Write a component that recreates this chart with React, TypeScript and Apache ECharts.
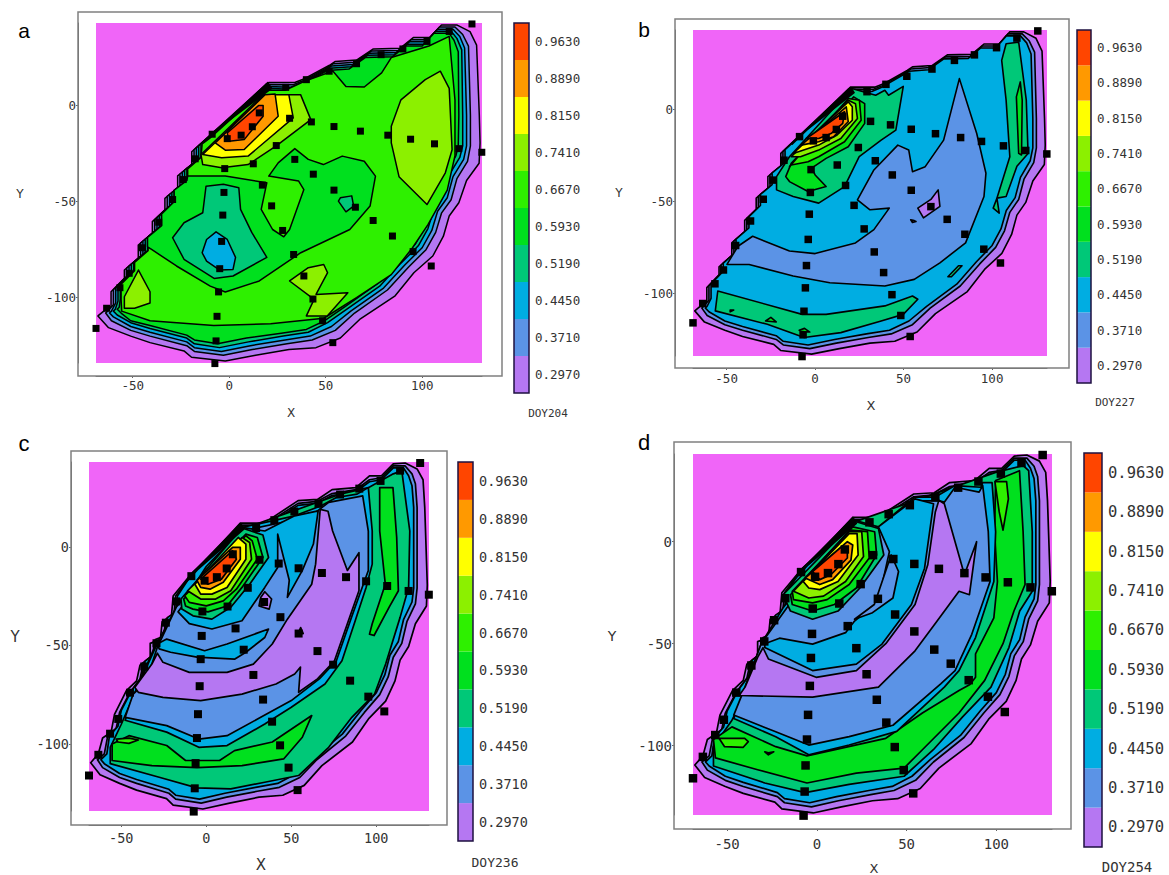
import React, { useEffect, useRef } from "react";
import * as echarts from "echarts";

type P = [number, number];
type Layer = [number, P[]];

const LEVEL_LABELS = ["0.2970", "0.3710", "0.4450", "0.5190", "0.5930", "0.6670", "0.7410", "0.8150", "0.8890", "0.9630"];
const LEVEL_COLORS = ["#B577F2", "#5B93E6", "#00ADE2", "#00C878", "#00E01E", "#2EF000", "#8CF000", "#FFFF00", "#FF9900", "#FF4500", "#000000"];
const X_TICKS = [-50, 0, 50, 100];
const Y_TICKS = [-100, -50, 0];

const SAMPLE_POINTS: P[] = [
  [125.8, 42.5], [114, 38.6], [102.5, 33.4], [90, 29.5], [78.7, 26.5], [66, 21.8], [51.8, 17.9], [40, 13.5], [29.3, 9.5],
  [15.6, -3.8], [31.3, -6.6], [42.6, -8.5], [54.3, -10.9], [68, -13.3], [82.2, -15.4], [94, -17.5], [106.4, -19.9], [119, -22.4], [130.9, -24.3],
  [12, -11], [6.2, -15.4], [-1, -17.2], [-8.8, -14.9], [24.4, -20.8], [-17.6, -27.7], [34, -28], [12.5, -30.3], [-2.3, -32.8], [43.6, -35.7],
  [-23.8, -38.5], [17.2, -41.4], [-2.7, -45.2], [54.3, -44], [-29.3, -48.9], [22, -52.2], [65.4, -52.9], [-3.3, -57], [74.6, -59.8], [-36.5, -60.7],
  [27.7, -65], [84.6, -67.9], [-3.9, -70.7], [-44.9, -74], [33.4, -77.5], [95.3, -76], [-51.8, -87.3], [-4.9, -84.9], [38.7, -88.7], [104.7, -83.5],
  [-56.6, -94.8], [-5.5, -97], [43.4, -100.7], [-63.5, -105.5], [-6.3, -109.7], [48.4, -112], [-69, -116], [-6.8, -122.5], [53.7, -123.4], [-7.4, -134.3],
];

const HULL: P[] = [[-68,-109.5],[-63.5,-105],[-61,-97],[-56,-94],[-54,-85],[-47,-73],[-41,-68],[-39,-60],[-33,-56],[-33,-49],[-27,-47],[-26,-38],[-20.5,-35],[-19.5,-25],[-10,-15],[20.5,12],[34,12],[54,23.4],[65.4,24],[74,29],[88,30],[96,36],[103,36],[110,42],[117,42.5],[124,39.5],[127.5,34],[128.5,20],[130,-19.4],[129.5,-30],[123,-39],[119,-50.6],[114,-57.5],[111,-68],[105.5,-78.3],[95.7,-87],[86,-99],[68,-111],[57.6,-121],[45,-126],[31,-127],[13.7,-130],[-2,-133],[-19.5,-131],[-23.4,-127.7],[-41,-123.4],[-51,-120],[-62.5,-115.6]];
const RING_BLUE: P[] = [[-64,-108],[-60,-105],[-58,-96],[-53,-92],[-51,-84],[-45,-74],[-39,-67],[-37,-59],[-31,-55],[-31,-48],[-25,-46],[-24,-37],[-19,-34],[-18,-25],[-9,-14],[21,11],[34,11],[54,22],[65,23],[74,27],[88,29],[96,34],[103,35],[110,41],[117,41],[121,37],[123,32],[124,20],[124,-21],[123,-29],[118,-38],[115,-49],[110,-56],[107,-66],[102,-75],[93,-84],[82,-96],[65,-108],[55,-117],[43,-122],[30,-124],[12,-127],[-3,-130],[-18,-128],[-22,-125],[-41,-120],[-51,-117],[-61,-112]];
const RING_CYAN: P[] = [[-62,-108],[-58.5,-105],[-57,-96],[-52,-91],[-50,-83],[-44,-73],[-38,-66],[-36,-58],[-30,-54],[-30,-47],[-24,-45],[-23,-36],[-18,-33],[-17,-25],[-8,-13],[21,10],[34,10],[54,21],[65,22],[74,26],[88,28],[96,33],[103,34],[110,40],[116,40],[119,36],[121,31],[122,20],[122,-21],[121,-28],[116,-37],[113,-48],[108,-55],[105,-65],[100,-74],[91,-83],[80,-95],[63,-107],[53,-115],[42,-120],[29,-122],[11,-125],[-4,-128],[-18,-126],[-22,-123],[-41,-118],[-51,-115],[-60,-110]];

const LOWER_BLUE: P[] = [[118,-38],[115,-49],[110,-56],[107,-66],[102,-75],[93,-84],[82,-96],[65,-108],[55,-117],[43,-122],[30,-124],[12,-127],[-3,-130],[-18,-128],[-22,-125],[-41,-120],[-51,-117],[-61,-112],[-64,-108]];
const LOWER_CYAN: P[] = [[116,-37],[113,-48],[108,-55],[105,-65],[100,-74],[91,-83],[80,-95],[63,-107],[53,-115],[42,-120],[29,-122],[11,-125],[-4,-128],[-18,-126],[-22,-123],[-41,-118],[-51,-115],[-60,-110],[-62,-108]];
const LOWER_TEAL: P[] = [[114,-36],[111,-47],[106,-54],[103,-64],[98,-73],[89,-82],[78,-94],[61,-106],[51,-113],[41,-118],[28,-120],[10,-123],[-5,-126],[-18,-124],[-22,-121],[-41,-116],[-51,-113],[-58,-109],[-60,-107]];
const LOWER_GREEN: P[] = [[112.5,-35],[109.5,-46],[104.5,-53],[101.5,-63],[96.5,-72],[87.5,-81],[76.5,-93],[59.5,-105],[49.5,-112],[40,-116.5],[27,-118.5],[9,-121],[-6,-124],[-18,-122],[-22,-119.5],[-41,-114.5],[-51,-112],[-56,-108],[-58,-106]];

const STEP_HULL: P[] = [[-68,-109.5],[-65,-107],[-61.2,-104.7],[-61.2,-96.9],[-54.3,-89.9],[-54.3,-85.6],[-47.1,-79.5],[-47.1,-72.6],[-39.8,-66.5],[-39.8,-60.4],[-33.3,-54.3],[-33.3,-48.3],[-26.7,-43],[-26.7,-36.6],[-19.4,-30.9],[-19.4,-24],[19,11],[20.5,12],[34,12],[39,14],[52,21],[55,23],[66,23.7],[74.7,29.5],[88.5,29.8],[95.4,35.4],[104,35.4],[110,42],[117.9,42],[124.8,38.5],[128.2,31.5],[129.6,-4.9],[130,-19.4],[129.5,-30],[123,-39],[119,-50.6],[114,-57.5],[111,-68],[105.5,-78.3],[95.7,-87],[86,-99],[68,-111],[57.6,-121],[45,-126],[31,-127],[13.7,-130],[-2,-133],[-19.5,-131],[-23.4,-127.7],[-41,-123.4],[-51,-120],[-62.5,-115.6]];
const STEP_BLUE: P[] = [[-63,-107],[-60,-103.7],[-60,-95.9],[-53.1,-88.9],[-53.1,-84.6],[-45.9,-78.5],[-45.9,-71.6],[-38.6,-65.5],[-38.6,-59.4],[-32.1,-53.3],[-32.1,-47.3],[-25.5,-42],[-25.5,-35.6],[-18.2,-29.9],[-18.2,-23],[19.3,10.6],[20,11],[33,10.8],[38,12.8],[51,19.9],[54,21.8],[65,22.6],[73.7,28.4],[87.5,28.7],[94.4,34.3],[103,34.3],[109,40.9],[117,40.9],[121,37],[124,31],[125,-5],[125,-21],[123.5,-29],...LOWER_BLUE];
const STEP_CYAN: P[] = [[-61,-107],[-58.8,-102.7],[-58.8,-94.9],[-51.9,-87.9],[-51.9,-83.6],[-44.7,-77.5],[-44.7,-70.6],[-37.4,-64.5],[-37.4,-58.4],[-30.9,-52.3],[-30.9,-46.3],[-24.3,-41],[-24.3,-34.6],[-17,-28.9],[-17,-22],[19.6,10.2],[20,10],[32,9.6],[37,11.6],[50,18.8],[53,20.6],[64,21.4],[72.7,27.3],[86.5,27.6],[93.4,33.2],[102,33.2],[108,39.8],[116,39.8],[119.5,36],[122,30],[123,-5],[123,-21],[121.5,-28],...LOWER_CYAN];
const STEP_TEAL: P[] = [[-59,-106],[-57.6,-101.7],[-57.6,-93.9],[-50.7,-86.9],[-50.7,-82.6],[-43.5,-76.5],[-43.5,-69.6],[-36.2,-63.5],[-36.2,-57.4],[-29.7,-51.3],[-29.7,-45.3],[-23.1,-40],[-23.1,-33.6],[-15.8,-27.9],[-15.8,-21],[19.8,9.8],[20,9],[31,8.5],[36,10.5],[49,17.7],[52,19.4],[63,20.2],[71.7,26.2],[85.5,26.5],[92.4,32],[101,32],[107,38.7],[115,38.7],[118,35],[120.5,29],[121,-5],[121,-21],[119.5,-27],...LOWER_TEAL];
const STEP_GREEN: P[] = [[-57,-105],[-56.4,-100.7],[-56.4,-92.9],[-49.5,-85.9],[-49.5,-81.6],[-42.3,-75.5],[-42.3,-68.6],[-35,-62.5],[-35,-56.4],[-28.5,-50.3],[-28.5,-44.3],[-21.9,-39],[-21.9,-32.6],[-14.6,-26.9],[-14.6,-20],[20,9.4],[20,8],[30,7.4],[35,9.4],[48,16.6],[51,18.3],[62,19],[70.7,25.1],[84.5,25.4],[91.4,31],[100,31],[106,37.6],[114,37.6],[116.5,34],[118.7,28],[119,-5],[118.7,-21],[117.5,-26],...LOWER_GREEN];
const EDGE: P[] = [[-13,-19],[20,12],[22,9],[-9,-14.5]];

const PANEL_A: Layer[] = [
  [0, STEP_HULL], [1, STEP_BLUE], [2, STEP_CYAN], [3, STEP_TEAL], [4, STEP_GREEN],
  [5, [[-55.7,-107],[-41,-112],[-8,-114.5],[21.5,-113.6],[49,-110.7],[66,-100],[84,-88],[95,-74],[103,-62],[113,-44],[117,-26],[117,3],[114,36],[103.5,31],[84,25],[79,17],[70,9.7],[60.5,10],[53.7,18],[39,12.6],[29,8],[17.5,8],[-10,-17],[-14,-20],[-14.6,-27],[-21.5,-33],[-21.5,-39],[-28,-44],[-28,-50],[-34.5,-56],[-34.5,-62.5],[-42,-68.6],[-42,-75.5],[-49,-81.6],[-49,-86],[-56,-93],[-56,-101]]],
  [6, [[109.4,17.9],[114,9],[115.5,-23],[112,-35],[102.5,-51.5],[88,-37],[84,-19.4],[84,-10.7],[89,3],[101.6,13.5]]],
  [6, [[-47,-85.6],[-41,-96.9],[-41,-102.8],[-49,-105.5],[-54.3,-105.5],[-54.3,-99.5]]],
  [6, [[31.3,-91.3],[41,-84.4],[49,-82.7],[51,-87],[45,-98.3],[61.5,-97.4],[50.8,-109.5],[40,-109.5],[44,-100.9]]],
  [4, [[-40,-75],[-27.3,-83.5],[-9.8,-94],[-2,-97],[15.6,-91.3],[37.1,-76.6],[62.5,-64.5],[73,-52.3],[75.8,-36.7],[70,-29],[58.6,-26.3],[48.8,-30.7],[41,-28],[34,-22.4],[25.4,-29.8],[20.5,-36.7],[36,-39.3],[38.7,-43.7],[31.3,-64.5],[28.3,-68.3],[22.5,-64.5],[16.6,-54],[19.5,-40.2],[-2,-36.7],[-21.5,-36.7],[-21.9,-39],[-28.5,-44],[-28.5,-50],[-35,-56.4],[-35,-62.5],[-42.3,-68.6],[-42.3,-73.5]]],
  [3, [[-12,-42],[-3,-41],[5,-42.8],[5.9,-54],[11.7,-66],[19.5,-79],[2,-88.7],[-7.8,-90],[-23.4,-80],[-29.3,-68.8],[-23.4,-61],[-13.7,-55.8]]],
  [2, [[-6.8,-65.7],[-1,-69.7],[3.3,-79],[2,-85.3],[-4.9,-85.6],[-11.7,-81],[-14,-76.6],[-11.7,-69.7]]],
  [3, [[57.6,-48],[63.5,-47],[64.5,-52.3],[60.5,-55.3],[56.6,-49.7]]],
  [6, [[37,5.7],[42.3,-7.3],[24.4,-21],[9.8,-30.7],[-3.9,-32.4],[-13.7,-30.7],[-14.6,-25.5],[17.6,5.7]]],
  [7, [[-13.7,-25.5],[-3.9,-27.2],[9.8,-26.3],[33.2,-6.4],[30.9,5.7],[18.6,5.7]]],
  [8, [[-7.2,-19.4],[-2,-23.2],[7.8,-22.9],[25.4,-5.5],[23.8,6],[18.6,5.7]]],
  [9, [[-1,-14.2],[0,-18.5],[7.8,-17.7],[17.6,-5.5],[17.6,0],[15.2,0]]],
  [10, EDGE],
];

const PANEL_B: Layer[] = [
  [0, STEP_HULL], [1, STEP_BLUE], [2, STEP_CYAN],
  [3, [[49.8,12.4],[45.6,-11.4],[37.3,-16.8],[24.9,-25.8],[16.6,-42],[2,-51],[-12.4,-47.4],[-21.8,-43.8],[-21.8,-36.6],[-14.5,-25.8],[20.7,11.2],[34.2,7.6],[39.4,10.3],[41.5,7.6]]],
  [4, [[-16.6,-36.6],[-13.5,-29.4],[21.8,6.7],[28,3],[28,-7.7],[18.7,-20.4],[6.2,-26.7],[-2,-32],[0,-35.7],[6.2,-42],[-4,-44.7],[-14.5,-39.3]]],
  [5, [[-14.5,-31.2],[18.7,5.8],[25,4.9],[26,-6],[16.6,-17.7],[2,-25.8],[-4,-28.5],[-13.5,-30.3]]],
  [6, [[-13.5,-25.8],[18.7,4.9],[22.8,3],[23.9,-5],[14.5,-15.9],[2,-22.2],[-8.3,-25.8]]],
  [7, [[-12.4,-24],[18.7,4],[21,1.3],[21,-6],[12.4,-14],[2,-19.5]]],
  [8, [[-7.9,-19.5],[17.6,1.3],[18.7,-6.8],[10.4,-15],[2,-17.7]]],
  [9, [[-5,-15.9],[16.6,-1.4],[15.6,-7.7],[9.3,-13],[2,-15.9]]],
  [1, [[-35.3,-69],[-14.5,-77],[0,-78.4],[22.8,-72.6],[33.2,-65.4],[41.9,-53.7],[31,-54.6],[23.9,-49.2],[33.2,-33],[46.7,-19.5],[52.9,-22.2],[55,-33.9],[62.2,-31.2],[72.6,-16.8],[81.5,16.6],[91.3,-13.2],[96.5,-34.8],[95.4,-47.4],[85,-72.6],[70.5,-83.4],[56,-92.4],[39.4,-96],[8.3,-94.2],[-12.4,-90.6],[-37.3,-84.3],[-49.8,-84.3],[-43.6,-74.4]]],
  [0, [[69.5,-43.8],[70.5,-52.8],[61.2,-59],[58,-53.7],[65.4,-49]]],
  [0, [[54,-60],[56,-60.5],[57,-61],[55,-61.5]]],
  [3, [[75,-91],[81,-85],[83,-85],[77,-91]]],
  [3, [[-55,-98.7],[-7.3,-111.4],[6.2,-111.4],[39.4,-106.8],[55,-101.4],[58,-103.2],[49.8,-111.4],[37.3,-115],[14.5,-121.3],[-6.2,-124],[-27,-116.8],[-56.4,-109.5]]],
  [4, [[-48,-109],[-46,-109],[-48,-110]]],
  [4, [[-28,-115],[-25,-113],[-22,-115.5]]],
  [4, [[-9,-120],[-6,-119],[-3,-121],[-6,-121]]],
  [3, [[107.9,35.5],[115,36.4],[119.3,4.9],[120.3,-24],[114,-31],[107.9,-47.4],[102.7,-48.3],[104,-56.4],[100.6,-53.7],[102.7,-48.3],[110,-25.8],[107.9,4.9],[105.4,26.5]]],
  [4, [[115.9,14.8],[117,4.9],[116.6,-24.9],[115,-24],[113.7,6.7]]],
  [10, EDGE],
];

const PANEL_C: Layer[] = [
  [0, HULL], [1, RING_BLUE], [2, RING_CYAN],
  [3, [[115,38.5],[119.7,8],[119,-20.6],[114,-35.8],[105.5,-59.5],[99,-74.7],[85.6,-86.5],[72,-101.7],[54.3,-116],[34.4,-119.4],[14.4,-122.8],[-5.5,-122.3],[-27.7,-116.9],[-56.5,-110],[-56.5,-101.7],[-50,-90],[-30,-50],[0,-10],[21,9],[80,27],[95.3,30],[110,37]]],
  [4, [[-55.4,-100],[-45.5,-95.8],[-23.3,-100.8],[-12.2,-108.4],[7.8,-108.4],[16.6,-103.4],[38.8,-99],[62,-85.6],[56.5,-96.6],[45.5,-107.6],[21,-111],[-5.5,-112],[-32,-111],[-55.4,-108.4]]],
  [5, [[-53,-97.5],[-45.5,-97],[-40,-98],[-45.5,-99.7],[-52,-99]]],
  [4, [[102,30],[109.8,30],[112,4.7],[113,-22.3],[107.5,-30.7],[98.7,-45],[96,-44.3],[97.6,-39],[105.3,-19],[102,8]]],
  [2, [[95.3,30],[97.6,8],[97.6,-8.8],[94,-20.6],[87.6,-37.5],[79.8,-57.8],[69.8,-69.6],[50,-81.4],[34.4,-89.9],[12.2,-100.8],[-4.4,-101.7],[-23.3,-94],[-47.7,-88],[-43,-76],[-28.8,-49],[-16.6,-29],[21,9.8],[52,15.7],[67.6,20.8],[76.5,25],[88.7,26.7]]],
  [1, [[92,25.8],[95.3,8],[95.3,-12],[91,-22.3],[85.4,-35.8],[76.5,-57.8],[66.5,-67],[50,-78],[32,-86.5],[12.2,-95.8],[-4.4,-97.5],[-23.3,-90.7],[-47.7,-86.5],[-43,-74.7],[-38.8,-71.3],[-32,-59.5],[-28.8,-51],[-17.7,-30.7],[21,8],[58.8,15],[65.4,18.2],[72,22.5]]],
  [0, [[67,19],[71.6,18],[74.3,8],[83,-12],[89.8,-3],[89.8,-22.3],[84.3,-35.8],[75.4,-57.8],[65.4,-67],[54.3,-73.8],[55.4,-61],[52,-64.5],[41,-69.6],[21,-74.7],[-3.3,-78],[-25.5,-76.4],[-40,-73.8],[-42,-71.3],[-32,-59.5],[-28.8,-54],[-25.5,-58.6],[-10,-63.7],[12.2,-63.7],[27.7,-59.5],[38.8,-49.3],[47.7,-36.7],[62,-19],[64.3,-8.8]]],
  [2, [[-28.8,-49.3],[-23.3,-46.8],[-1,-52.7],[12.2,-49.3],[36.6,-41.7],[34.4,-46],[23.3,-53.5],[16.6,-57],[-5.5,-56],[-21,-53.5],[-27.7,-51.8]]],
  [2, [[-16.6,-33],[-10,-39],[3.3,-41.7],[21,-37.5],[34.4,-20.6],[42,-10.5],[42,6.4],[48.8,-17],[47.7,-25.7],[56.5,-12],[63,1.4],[65.8,18.2],[52,15.7],[34.4,8],[21,9.8]]],
  [0, [[34.4,-22.8],[38.4,-26.5],[37,-31.6],[31,-30],[32,-25.7]]],
  [1, [[54,-44],[55.5,-41],[57,-44]]],
  [3, [[-14.9,-26.5],[21,9.5],[33.3,6],[36.6,-5.4],[25.5,-19],[14.4,-30.7],[3.3,-36.7],[-7.8,-35],[-14.4,-31.6]]],
  [4, [[-13.3,-26.5],[23.3,6.4],[30,4.7],[33.3,-5.4],[21,-20.6],[12.2,-30],[1,-33],[-7.8,-31.6],[-12.2,-30]]],
  [5, [[-12.7,-24.8],[23.3,5.6],[27,3],[30,-6.3],[17.7,-21.5],[10,-27.4],[0,-30],[-10,-28.2]]],
  [6, [[-11,-22.3],[21,4.7],[25.5,2.2],[26.6,-6.3],[14.4,-22.3],[5.5,-26.5],[-3.3,-26.5]]],
  [7, [[-6.7,-19],[18.8,4.7],[23.3,1.4],[23.3,-6.3],[12.2,-20.6],[3.3,-24],[-3.3,-24]]],
  [8, [[-5.5,-17],[15.5,-0.3],[20,-0.3],[20,-6.3],[10,-18],[2.2,-21.5],[-3.3,-20.6]]],
  [9, [[-3.3,-16.4],[15.5,-2],[17.7,-6.3],[8.9,-16.4],[1,-19]]],
  [10, EDGE],
];

const PANEL_D: Layer[] = [
  [0, HULL], [1, RING_BLUE], [2, RING_CYAN],
  [3, [[115,37.3],[118,34.8],[120,4.9],[120,-24.3],[113,-34],[107,-51.9],[97,-71.3],[81.2,-85.9],[64.9,-102],[48.6,-115],[18,-119],[-6.5,-123],[-29,-118.3],[-57.6,-110],[-57.6,-100.5],[-47.3,-87.5],[-14.7,-30.8],[21,9.7],[99.6,34]]],
  [4, [[99.6,30],[112.9,34.8],[114.9,4.9],[116,-21],[109.8,-34],[103.7,-50],[93.5,-68],[79.2,-84],[58.8,-102],[48.6,-111],[22,-113.5],[-5.5,-118.3],[-33,-111.8],[-56.5,-106],[-57.6,-97],[-47.3,-90.8],[-22.9,-100.5],[-5.5,-105],[38.4,-96.4],[58.8,-84],[79.2,-73],[85.3,-70],[88.4,-66.5],[88.4,-55],[98.6,-37.3],[100.6,-19.5],[99,4.9]]],
  [5, [[-54.5,-96.4],[-40.2,-96.4],[-38.2,-98],[-41,-100.8],[-51.4,-100.5]]],
  [5, [[99.2,29.5],[105.7,29.5],[106.7,21],[103.7,5.7],[101.6,14.6]]],
  [3, [[-29,-103],[-27,-103.5],[-24,-103],[-27,-104.5]]],
  [2, [[92.4,29],[97.6,29],[99.6,4.9],[98.6,-19.5],[88.4,-47],[79.2,-63.2],[71,-71.3],[44.5,-93],[18,-99.7],[-4.5,-104.5],[-22.9,-95.6],[-46.3,-86.7],[-31,-50],[-18.8,-32.4],[21,10.5],[34.3,7.3],[54.7,21.9],[66,21.9],[77,27.5],[91.4,26.7]]],
  [1, [[92.4,27.5],[95.5,4.9],[96.5,-19.5],[86.3,-45.4],[77,-63.2],[69,-69.7],[42.4,-90],[18,-95.6],[-4.5,-99.7],[-22.9,-93.2],[-46.3,-85],[-40,-71.3],[-31,-50],[-16.7,-32.4],[22,8],[34.3,6.5],[54.7,20],[68,20],[71,19.4],[77,26.7],[90.4,24.3]]],
  [0, [[-30,-52],[-27,-57.5],[-0.4,-66.5],[22,-63.2],[38.4,-50],[54.7,-30.8],[61.8,-11.3],[66,14.6],[68,20.3],[71,18.6],[82.2,-16.2],[89,0],[85,-26],[79.2,-24.3],[67,-38.9],[54.7,-53.5],[34.3,-71.3],[-2.4,-76.2],[-43.3,-75.4],[-40,-71.3],[-33,-56.7]]],
  [2, [[-29,-50],[-20.8,-47.3],[-2.4,-50.2],[16,-44.6],[21,-38.9],[34.3,-29.2],[40.4,-4.9],[34.3,7.3],[54.7,21],[65,18.6],[60,-13],[52.7,-30.8],[36.3,-50.2],[22,-60],[-2.4,-63.2],[-29,-51.9]]],
  [1, [[21,-38],[32,-30.8],[41.4,-6.5],[45.5,-14.6],[42.4,-27.6],[31,-34.8]]],
  [3, [[-18.8,-26],[21,10],[34.3,6.5],[37.3,-6.5],[24,-22.7],[11.8,-34],[-2.4,-38],[-14.7,-34]]],
  [4, [[-14.7,-26],[20,7.3],[32.2,4.9],[33.3,-6.5],[22,-22.7],[9.8,-30.8],[-2.4,-34],[-13.7,-30.8]]],
  [5, [[-13.7,-24.3],[19,5.7],[28.2,4.9],[29.2,-8],[18,-21],[5.7,-28.4],[-2.4,-30],[-13,-28.4]]],
  [6, [[-13,-24.3],[18,4.9],[25,4.9],[26,-7.3],[16,-19.5],[3.7,-26.7],[-4.5,-27.6]]],
  [7, [[-7.6,-19.5],[18,4],[22.4,4],[23,-6.5],[11.8,-19.5],[1.6,-23.5],[-4.5,-22.7]]],
  [8, [[-6.5,-17.8],[17,0],[20,-1.6],[19,-9],[8.8,-18.6],[1.6,-21]]],
  [9, [[-2.4,-14.6],[13.9,-2.4],[17,-3.2],[17,-8],[7.8,-16.2],[1.6,-18.6]]],
  [10, EDGE],
];

const PANELS = [
  { name: "a", doy: "DOY204", layers: PANEL_A, rect: [96, 23, 386, 340], frame: [78, 12, 424, 364], bar: [514, 23, 15, 370], tick: 12.5, barFont: 12.5, square: 7, lw: 1.5, letter: [24, 30, 21], xLab: [291, 413, 12], yLab: [20, 194, 12], doyPos: [548, 413, 11], tickGap: 7 },
  { name: "b", doy: "DOY227", layers: PANEL_B, rect: [693, 30, 354, 326], frame: [675, 19, 394, 349], bar: [1077, 30, 14, 353], tick: 12.5, barFont: 12.5, square: 7.5, lw: 1.6, letter: [644, 29, 21], xLab: [871, 405, 13], yLab: [619, 193, 12], doyPos: [1115, 402, 11], tickGap: 8 },
  { name: "c", doy: "DOY236", layers: PANEL_C, rect: [89, 462, 340, 349], frame: [71, 451, 376, 374], bar: [458, 462, 15, 379], tick: 13.5, barFont: 13.5, square: 8, lw: 1.7, letter: [24, 443, 22], xLab: [261, 865, 15], yLab: [15, 637, 15], doyPos: [495, 862, 13], tickGap: 10 },
  { name: "d", doy: "DOY254", layers: PANEL_D, rect: [693, 454, 359, 361], frame: [674, 442, 397, 387], bar: [1084, 453, 18, 394], tick: 14, barFont: 15.5, square: 8.5, lw: 1.7, letter: [644, 442, 22], xLab: [874, 868, 13], yLab: [612, 636, 14], doyPos: [1127, 867, 14], tickGap: 12 },
];

const MONO = "DejaVu Sans Mono";
const SANS = "DejaVu Sans";

function buildOption() {
  const grid: any[] = [], xAxis: any[] = [], yAxis: any[] = [], series: any[] = [], graphic: any[] = [];
  PANELS.forEach((p, i) => {
    const [rx, ry, rw, rh] = p.rect;
    const [fx, fy, fw, fh] = p.frame;
    const [bx, by, bw, bh] = p.bar;
    const main = i * 2, cb = i * 2 + 1;
    grid.push({ left: rx, top: ry, width: rw, height: rh, show: true, backgroundColor: "#F065F8", borderWidth: 0 });
    grid.push({ left: bx, top: by, width: bw, height: bh, show: false });
    const axisStyle = { lineStyle: { color: "#666666", width: 1 } };
    xAxis.push({
      gridIndex: main, type: "value", min: -69, max: 131, offset: fy + fh - (ry + rh), splitLine: { show: false },
      axisLine: { show: true, onZero: false, ...axisStyle }, axisTick: { show: true, length: 2, customValues: X_TICKS, ...axisStyle },
      axisLabel: { customValues: X_TICKS, fontFamily: MONO, fontSize: p.tick, color: "#333333", margin: p.tickGap - 4 },
    });
    yAxis.push({
      gridIndex: main, type: "value", min: -134, max: 43, offset: rx - fx, splitLine: { show: false },
      axisLine: { show: true, onZero: false, ...axisStyle }, axisTick: { show: true, length: 2, customValues: Y_TICKS, ...axisStyle },
      axisLabel: { customValues: Y_TICKS, fontFamily: MONO, fontSize: p.tick, color: "#333333", margin: 2 },
    });
    xAxis.push({ gridIndex: cb, type: "value", min: 0, max: 1, show: false });
    yAxis.push({
      gridIndex: cb, type: "category", position: "right", data: LEVEL_LABELS,
      axisLine: { show: false }, axisTick: { show: false },
      axisLabel: { fontFamily: MONO, fontSize: p.barFont, color: "#333333", margin: 6, interval: 0 },
    });
    const layers = p.layers;
    series.push({
      type: "custom", xAxisIndex: main, yAxisIndex: main, clip: false, silent: true, z: 2,
      data: layers.map((_, k) => [k]),
      renderItem: (params: any, api: any) => {
        const [lvl, pts] = layers[params.dataIndex];
        return {
          type: "polygon",
          shape: { points: pts.map((q) => api.coord(q)) },
          style: { fill: LEVEL_COLORS[lvl], stroke: "#000000", lineWidth: p.lw, lineJoin: "round" },
        };
      },
    });
    series.push({
      type: "scatter", xAxisIndex: main, yAxisIndex: main, clip: false, silent: true, z: 5,
      symbol: "rect", symbolSize: p.square, itemStyle: { color: "#000000", opacity: 1 }, data: SAMPLE_POINTS,
    });
    series.push({
      type: "bar", xAxisIndex: cb, yAxisIndex: cb, barWidth: "100%", silent: true,
      data: LEVEL_COLORS.slice(0, LEVEL_LABELS.length).map((c) => ({ value: 1, itemStyle: { color: c } })),
    });
    graphic.push({ type: "rect", shape: { x: fx, y: fy, width: fw, height: fh }, style: { fill: "none", stroke: "#808080", lineWidth: 1.5 }, silent: true, z: 1 });
    graphic.push({ type: "rect", shape: { x: bx, y: by, width: bw, height: bh }, style: { fill: "none", stroke: "#1E1040", lineWidth: 1.5 }, silent: true, z: 10 });
    graphic.push({ type: "text", x: p.letter[0], y: p.letter[1], style: { text: p.name, font: `${p.letter[2]}px "Liberation Sans"`, fill: "#000", align: "center", verticalAlign: "middle" } });
    graphic.push({ type: "text", x: p.xLab[0], y: p.xLab[1], style: { text: "X", font: `${p.xLab[2]}px "${SANS}"`, fill: "#333", align: "center", verticalAlign: "middle" } });
    graphic.push({ type: "text", x: p.yLab[0], y: p.yLab[1], style: { text: "Y", font: `${p.yLab[2]}px "${SANS}"`, fill: "#333", align: "center", verticalAlign: "middle" } });
    graphic.push({ type: "text", x: p.doyPos[0], y: p.doyPos[1], style: { text: p.doy, font: `${p.doyPos[2]}px "${MONO}"`, fill: "#333", align: "center", verticalAlign: "middle" } });
  });
  return { animation: false, backgroundColor: "#ffffff", grid, xAxis, yAxis, series, graphic };
}

export default function App() {
  const ref = useRef<HTMLDivElement>(null);
  useEffect(() => {
    const chart = echarts.init(ref.current!, undefined, { renderer: "svg" });
    chart.setOption(buildOption());
    return () => chart.dispose();
  }, []);
  return <div ref={ref} style={{ position: "absolute", left: 0, top: 0, width: 1169, height: 875, overflow: "hidden" }} />;
}
